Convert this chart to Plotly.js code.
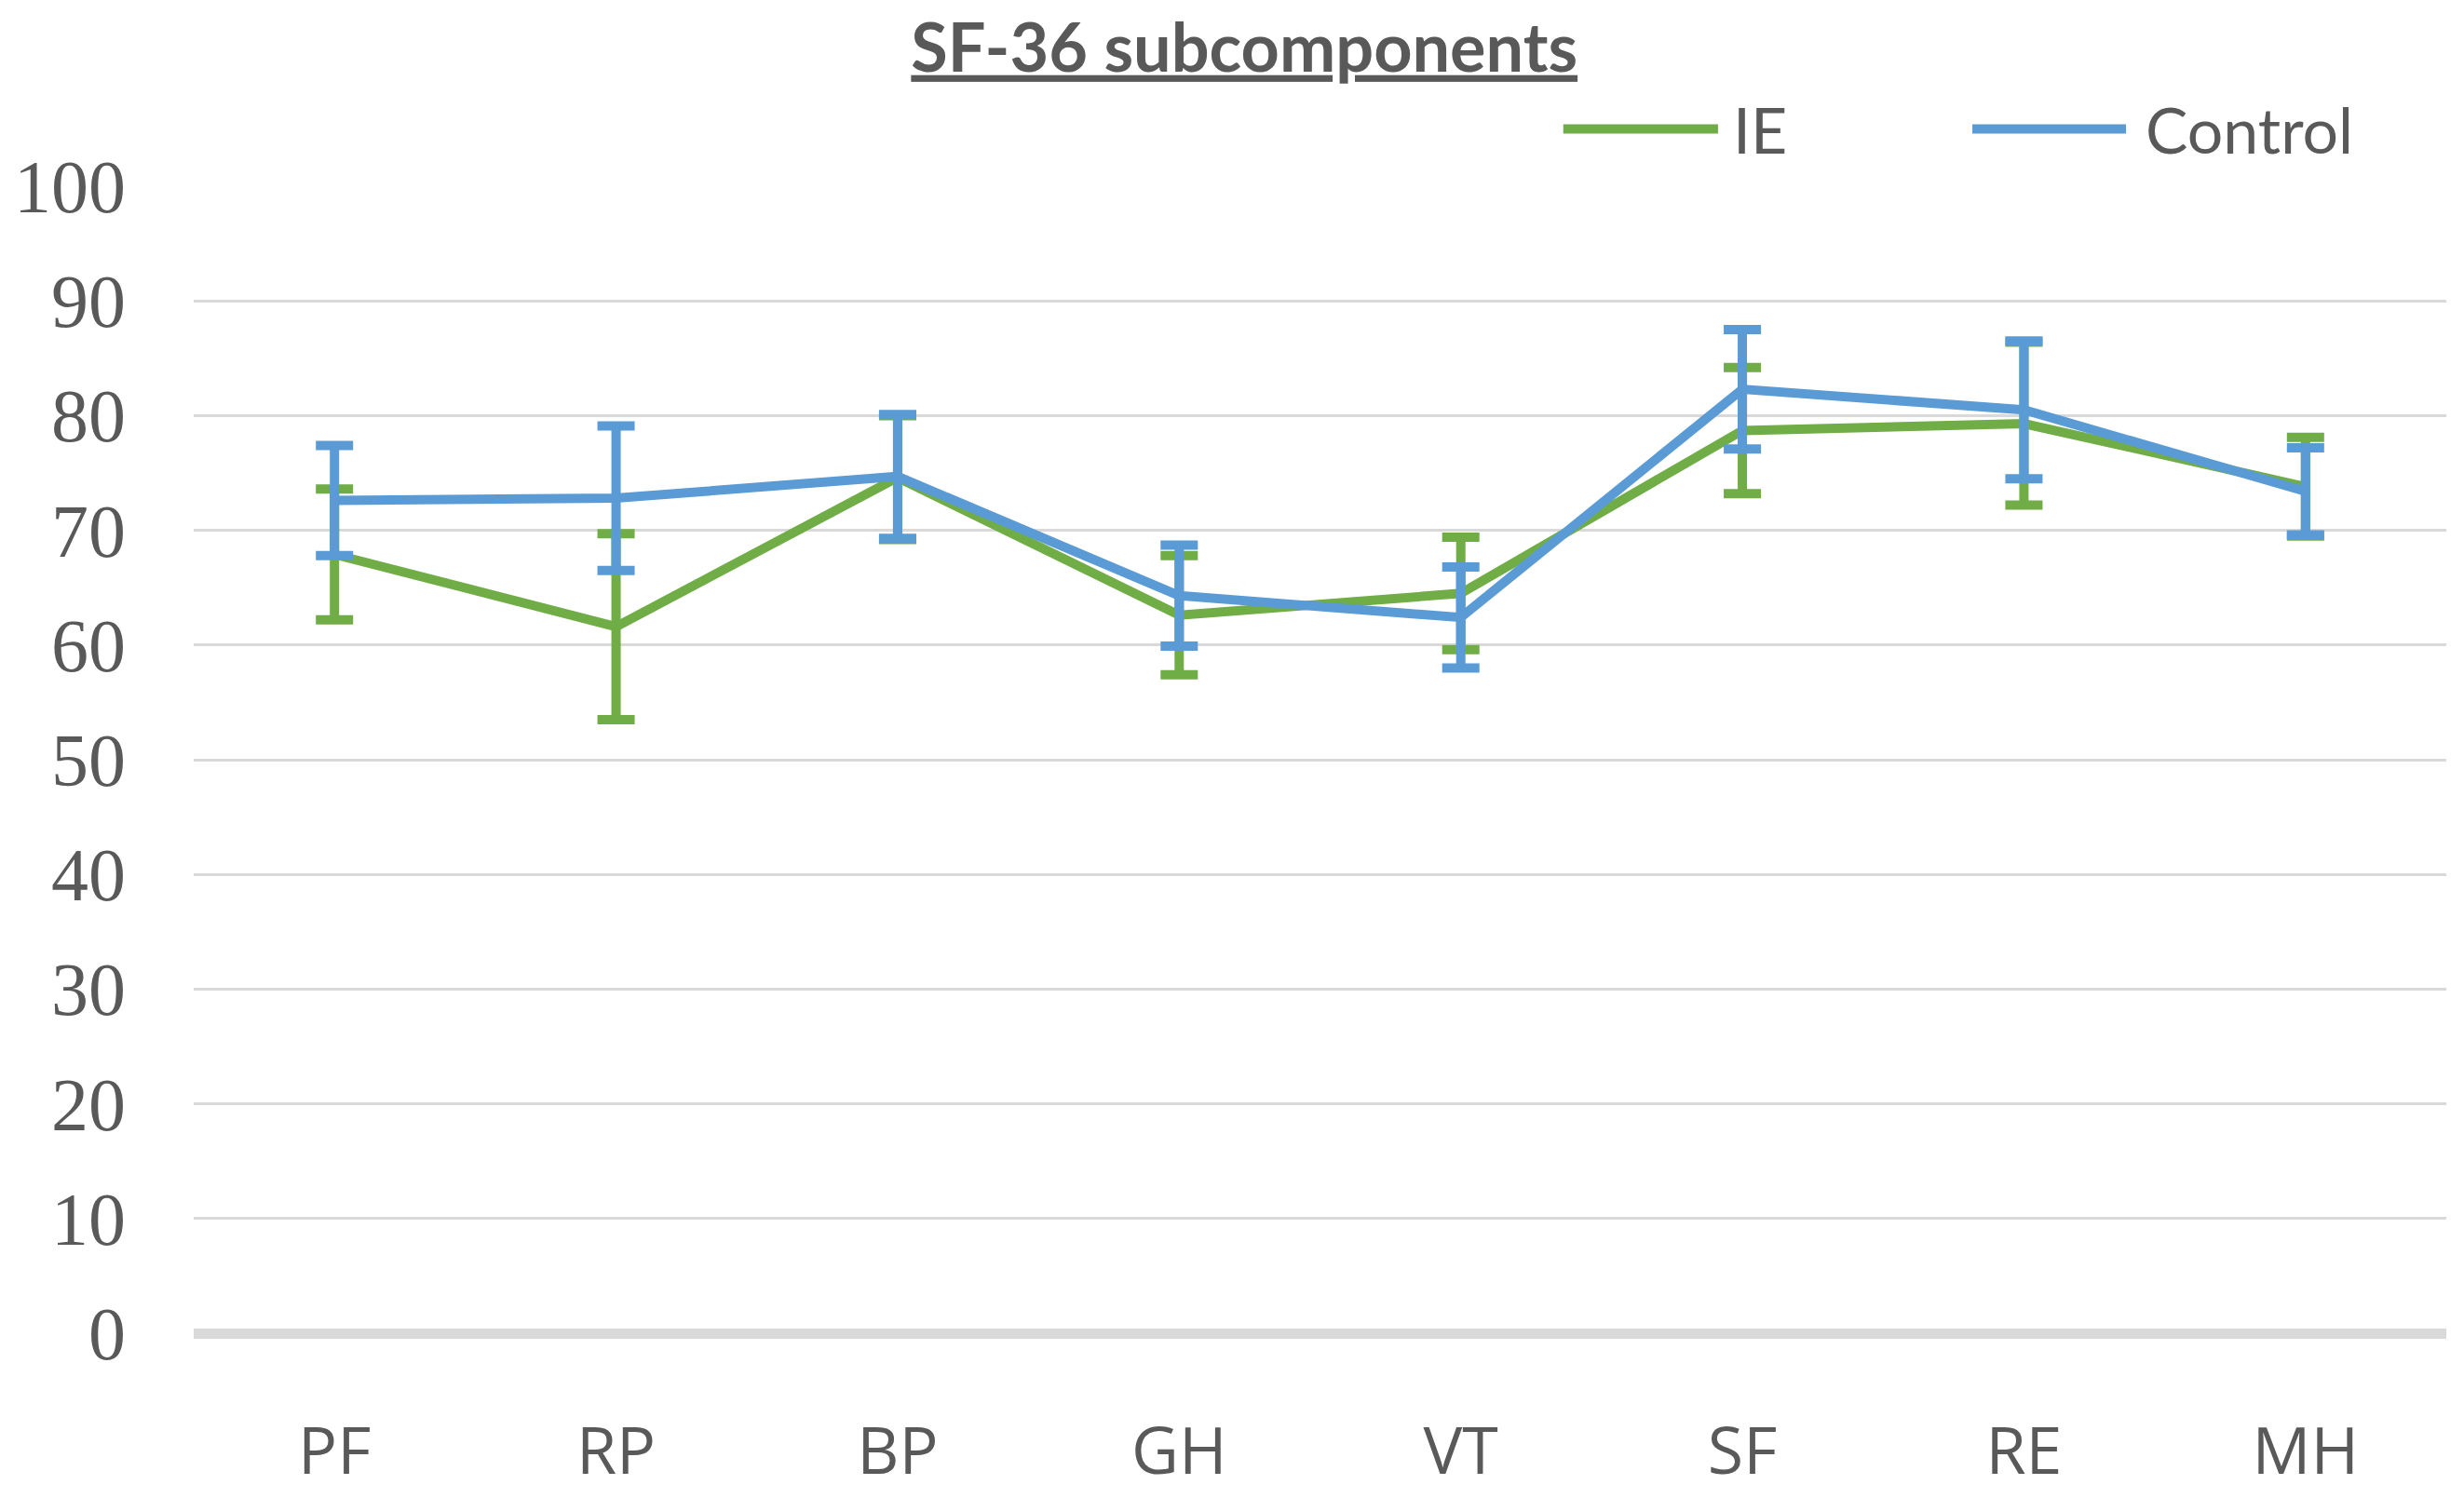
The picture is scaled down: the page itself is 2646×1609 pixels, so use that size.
<!DOCTYPE html>
<html>
<head>
<meta charset="utf-8">
<script src="https://cdn.plot.ly/plotly-3.0.1.min.js"></script>
<style>html,body{margin:0;padding:0;background:#fff;}#chart{width:2646px;height:1609px;}</style>
</head>
<body>
<div id="chart"></div>
<script>
const categories = ['PF', 'RP', 'BP', 'GH', 'VT', 'SF', 'RE', 'MH'];
const seriesNames = ['IE', 'Control'];
const ieMean = [67.9, 61.6, 74.6, 62.6, 64.5, 78.7, 79.3, 73.8];
const ieErr = [5.7, 8.1, 5.4, 5.2, 4.9, 5.5, 7.1, 4.3];
const controlMean = [72.6, 72.8, 74.7, 64.3, 62.4, 82.3, 80.5, 73.4];
const controlErr = [4.8, 6.3, 5.4, 4.4, 4.4, 5.2, 6.0, 3.8];
const yTicks = [0, 10, 20, 30, 40, 50, 60, 70, 80, 90, 100];
const titleText = 'SF-36 subcomponents';

const colors = ['#70AD47', '#5B9BD5'];
const textColor = '#595959';

function mk(name, y, err, color) {
  return {
    type: 'scatter', mode: 'lines', name: name,
    x: categories, y: y,
    line: {color: color, width: 10},
    error_y: {type: 'data', array: err, visible: true, color: color, thickness: 10, width: 20},
    showlegend: false, cliponaxis: false
  };
}
const data = [
  mk(seriesNames[0], ieMean, ieErr, colors[0]),
  mk(seriesNames[1], controlMean, controlErr, colors[1])
];

// manual legend (long line samples as in the original)
const legendItems = [
  {x0: 0.608, x1: 0.6767, tx: 0.6825},
  {x0: 0.7896, x1: 0.8578, tx: 0.8655}
];
const shapes = [];
const annotations = [];
legendItems.forEach((it, i) => {
  shapes.push({type: 'line', xref: 'paper', yref: 'paper', x0: it.x0, x1: it.x1, y0: 1.05, y1: 1.05,
    line: {color: colors[i], width: 10}});
  annotations.push({xref: 'paper', yref: 'paper', x: it.tx, y: 1.05, xanchor: 'left', yanchor: 'middle',
    text: seriesNames[i], showarrow: false, font: {family: 'Lato, sans-serif', size: 68, color: textColor}});
});

const layout = {
  width: 2646, height: 1609,
  paper_bgcolor: '#ffffff', plot_bgcolor: '#ffffff',
  margin: {l: 208, r: 19, t: 200, b: 177, pad: 0},
  title: {
    text: '<u>' + titleText + '</u>',
    xref: 'container', x: 0.505, xanchor: 'center',
    yref: 'container', y: 0.968, yanchor: 'middle',
    font: {family: 'Lato, sans-serif', size: 72, color: textColor, weight: 'bold'}
  },
  xaxis: {
    type: 'category', range: [-0.5, 7.5],
    showgrid: false, zeroline: false, showline: false, ticks: '',
    tickfont: {family: 'Open Sans, sans-serif', size: 70, color: textColor},
    ticklabelstandoff: 80
  },
  yaxis: {
    range: [0, 100], tickvals: yTicks,
    showgrid: true, gridcolor: '#D9D9D9', gridwidth: 3,
    zeroline: true, zerolinecolor: '#D9D9D9', zerolinewidth: 11,
    showline: false, ticks: '',
    tickfont: {family: 'Liberation Serif, serif', size: 80, color: textColor},
    ticklabelstandoff: 72
  },
  shapes: shapes,
  annotations: annotations,
  showlegend: false
};

Plotly.newPlot('chart', data, layout, {displayModeBar: false, staticPlot: true});
</script>
</body>
</html>
